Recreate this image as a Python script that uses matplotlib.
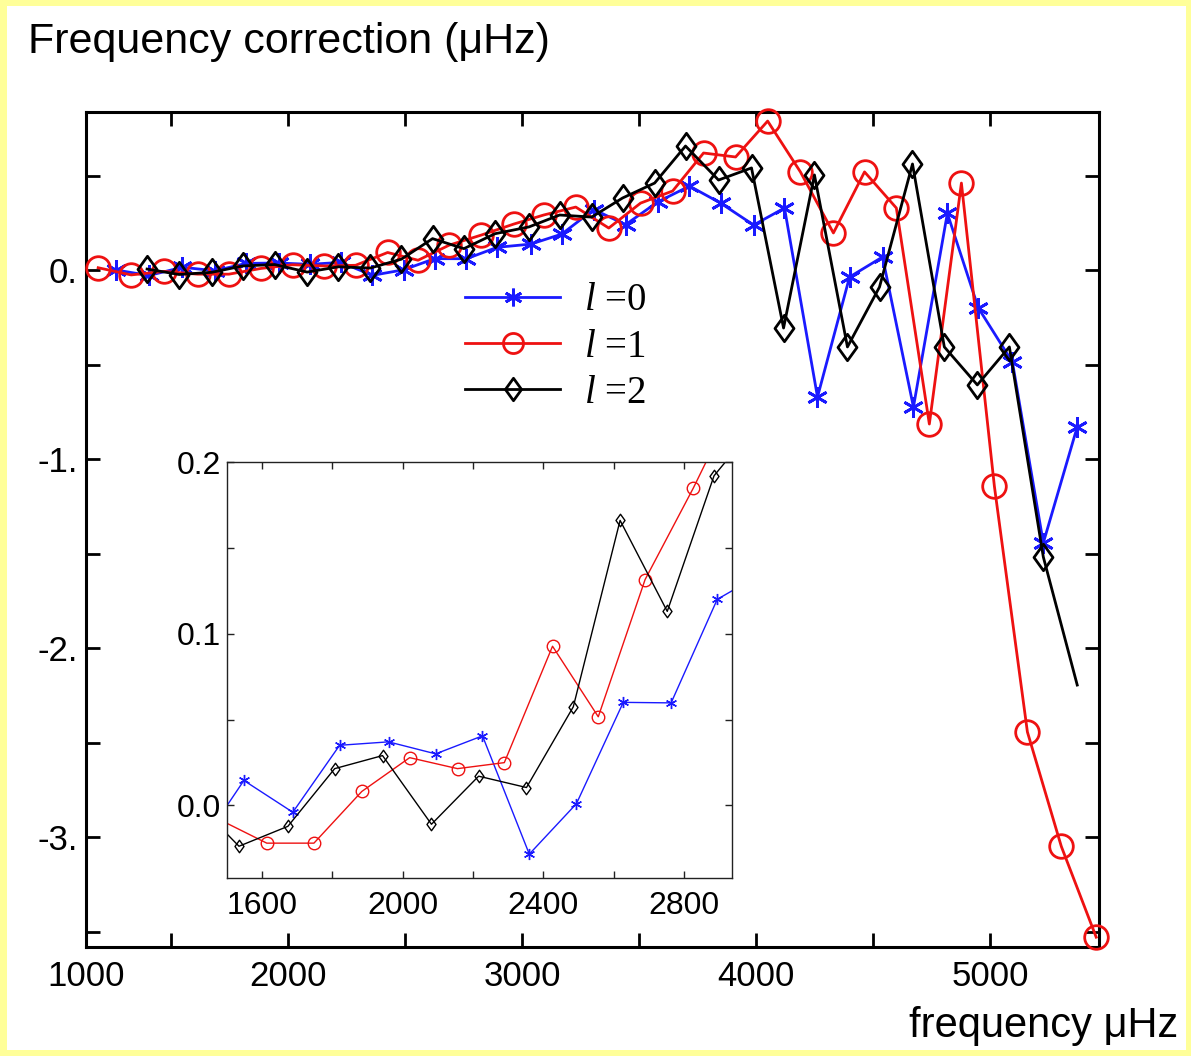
import matplotlib
matplotlib.use("Agg")
import matplotlib.pyplot as plt
from matplotlib.path import Path
from matplotlib.patches import Rectangle

plt.rcParams['font.family'] = ['Liberation Sans', 'DejaVu Sans']
plt.rcParams['mathtext.fontset'] = 'custom'
plt.rcParams['mathtext.it'] = 'Liberation Serif:italic'
plt.rcParams['mathtext.rm'] = 'Liberation Serif'

# ---------------- data ----------------
freq_l0 = [1266, 1406, 1549, 1688, 1821, 1960, 2094, 2227, 2360, 2494, 2627, 2763, 2894,
           3038, 3170, 3307, 3443, 3580, 3716, 3849, 3990, 4122, 4263, 4400, 4541, 4673,
           4818, 4950, 5096, 5228, 5373]
corr_l0 = [0.0, -0.029, 0.0145, -0.004, 0.035, 0.037, 0.030, 0.0405, -0.0284, 0.001, 0.060,
           0.0597, 0.120, 0.137, 0.19, 0.32, 0.24, 0.36, 0.444, 0.354, 0.238, 0.328, -0.672,
           -0.037, 0.069, -0.725, 0.30, -0.20, -0.487, -1.444, -0.83]

freq_l1 = [1189, 1330, 1471, 1614, 1748, 1884, 2020, 2156, 2289, 2426, 2556, 2689, 2826,
           2965, 3093, 3230, 3371, 3507, 3644, 3776, 3913, 4050, 4190, 4331, 4464, 4600,
           4741, 4878, 5019, 5160, 5305, 5454]
corr_l1 = [0.012, -0.026, -0.0074, -0.022, -0.022, 0.0081, 0.0278, 0.0214, 0.0249, 0.0927,
           0.0516, 0.1315, 0.1848, 0.243, 0.291, 0.333, 0.222, 0.354, 0.418, 0.619, 0.598,
           0.788, 0.519, 0.196, 0.519, 0.328, -0.815, 0.46, -1.145, -2.444, -3.05, -3.53]

freq_l2 = [1398, 1535, 1674, 1807, 1943, 2082, 2216, 2352, 2485, 2618, 2752, 2885, 3030,
           3161, 3298, 3430, 3567, 3699, 3840, 3981, 4118, 4250, 4391, 4528, 4669, 4805,
           4946, 5083, 5228, 5373]
corr_l2 = [0.005, -0.0238, -0.0122, 0.0214, 0.029, -0.011, 0.017, 0.0104, 0.0574, 0.166,
           0.113, 0.192, 0.228, 0.291, 0.28, 0.381, 0.46, 0.656, 0.476, 0.54, -0.307, 0.503,
           -0.407, -0.09, 0.561, -0.407, -0.608, -0.407, -1.518, -2.196]

labels = [r"$l$ =0", r"$l$ =1", r"$l$ =2"]
colors = ["#1a1aff", "#ee1111", "#000000"]

main_xtick_pos = [1137, 1500, 2000, 2500, 3000, 3500, 4000, 4500, 5000]
main_xtick_lab = ["1000", "", "2000", "", "3000", "", "4000", "", "5000"]
main_ytick_pos = [0.5, 0, -0.5, -1, -1.5, -2, -2.5, -3, -3.5]
main_ytick_lab = ["", "0.", "", "-1.", "", "-2.", "", "-3.", ""]

inset_xtick_pos = [1600, 1800, 2000, 2200, 2400, 2600, 2800]
inset_xtick_lab = ["1600", "", "2000", "", "2400", "", "2800"]
inset_ytick_pos = [0.0, 0.05, 0.1, 0.15, 0.2]
inset_ytick_lab = ["0.0", "", "0.1", "", "0.2"]

# ---------------- figure ----------------
W, H = 1191, 1056
fig = plt.figure(figsize=(W / 100, H / 100), dpi=100)
fig.patch.set_facecolor('#ffff99')
fig.patches.append(Rectangle((7 / W, 6 / H), 1 - 12 / W, 1 - 12 / H, transform=fig.transFigure,
                             facecolor='white', edgecolor='none', zorder=-10))

diamond = Path([(0, 1), (0.72, 0), (0, -1), (-0.72, 0), (0, 1)],
               [Path.MOVETO, Path.LINETO, Path.LINETO, Path.LINETO, Path.CLOSEPOLY])
asterisk = (6, 2, 0)
markers = [asterisk, 'o', diamond]

ax = fig.add_axes([86 / W, 1 - 947 / H, 1013 / W, 835 / H])
series = [(freq_l0, corr_l0), (freq_l1, corr_l1), (freq_l2, corr_l2)]
msizes = [15, 17, 19]
for i, ((fx, fy), c, m, lab) in enumerate(zip(series, colors, markers, labels)):
    mev = None
    if i == 2:
        mev = list(range(len(fx) - 1))
    ax.plot(fx, fy, color=c, lw=2.0, marker=m, ms=msizes[i], mfc='none', mec=c, mew=2.0,
            markevery=mev, label=lab, clip_on=False if i == 1 else True, zorder=3 + (i == 2))

ax.set_xlim(1137, 5466)
ax.set_ylim(-3.582, 0.836)
ax.set_xticks(main_xtick_pos)
ax.set_xticklabels(main_xtick_lab)
ax.set_yticks(main_ytick_pos)
ax.set_yticklabels(main_ytick_lab)
ax.tick_params(direction='in', length=10, width=2, top=True, right=True, labelsize=25,
               pad=6)
ax.tick_params(axis='x', pad=9)
for s in ax.spines.values():
    s.set_linewidth(2.2)

leg = ax.legend(loc='upper left', bbox_to_anchor=(0.34, 0.838), frameon=False,
                handlelength=2.44, handletextpad=0.6, labelspacing=0.24, numpoints=1,
                markerscale=0.85,
                prop={'family': 'Liberation Serif', 'size': 28})

fig.text(28 / W, 1 - 42 / H, "Frequency correction (\u03bcHz)", fontsize=31, va='center',
         ha='left')
fig.text(1178 / W, 1 - 1026 / H, "frequency \u03bcHz", fontsize=30, va='center', ha='right')

# ---------------- inset ----------------
ax2 = fig.add_axes([227 / W, 1 - 878 / H, 505 / W, 416 / H])
imsizes = [8, 9, 9]
for i, ((fx, fy), c, m) in enumerate(zip(series, colors, markers)):
    ax2.plot(fx, fy, color=c, lw=1.0, marker=m, ms=imsizes[i], mfc='none', mec=c, mew=1.0)
ax2.set_xlim(1501, 2936)
ax2.set_ylim(-0.0423, 0.2)
ax2.set_xticks(inset_xtick_pos)
ax2.set_xticklabels(inset_xtick_lab)
ax2.set_yticks(inset_ytick_pos)
ax2.set_yticklabels(inset_ytick_lab)
ax2.tick_params(direction='in', length=5, width=1, top=True, right=True, labelsize=23, pad=4,
                colors='#222222', labelcolor='black')
ax2.tick_params(axis='x', pad=9)
for s in ax2.spines.values():
    s.set_linewidth(1.0)
    s.set_color('#222222')

fig.savefig("out.png", dpi=100, facecolor=fig.get_facecolor())
